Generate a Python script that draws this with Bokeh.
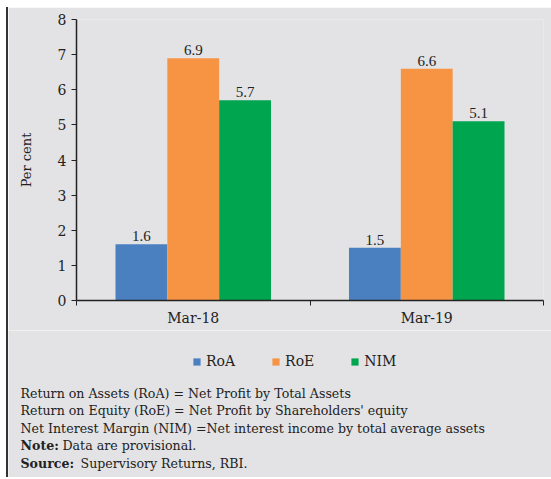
from bokeh.plotting import figure
from bokeh.layouts import column, row
from bokeh.models import (Range1d, FixedTicker, ColumnDataSource, LabelSet, Label,
                          Legend, LegendItem)
from bokeh.transform import dodge
from bokeh.embed import file_html
from bokeh.resources import INLINE

# ---- data ----
categories = ["Mar-18", "Mar-19"]
series_names = ["RoA", "RoE", "NIM"]
roa = [1.6, 1.5]
roe = [6.9, 6.6]
nim = [5.7, 5.1]
series_colors = ["#4a7fc0", "#f79443", "#00a550"]
y_ticks = [0, 1, 2, 3, 4, 5, 6, 7, 8]
footnotes = [
    "Return on Assets (RoA) = Net Profit by Total Assets",
    "Return on Equity (RoE) = Net Profit by Shareholders' equity",
    "Net Interest Margin (NIM) =Net interest income by total average assets",
]
note_head, note_body = "Note:", "Data are provisional."
source_head, source_body = "Source:", "Supervisory Returns, RBI."

FONT = "DejaVu Serif"
BG = "#e3e3e5"
TXT = "#222222"
W = 543

centers = [i + 0.5 for i in range(len(categories))]
data = dict(x=centers, cat=categories, RoA=roa, RoE=roe, NIM=nim,
            RoA_t=[f"{v:.1f}" for v in roa],
            RoE_t=[f"{v:.1f}" for v in roe],
            NIM_t=[f"{v:.1f}" for v in nim])
src = ColumnDataSource(data)

p = figure(width=W, height=323, output_backend="svg", toolbar_location=None,
           x_range=Range1d(0, len(categories)), y_range=Range1d(0, 8),
           min_border_left=68, min_border_right=8, min_border_top=12,
           min_border_bottom=30)
p.background_fill_color = BG
p.border_fill_color = BG
p.outline_line_color = None
p.grid.grid_line_color = None

bw = 0.222
offsets = [-bw, 0.0, bw]
for name, col, off in zip(series_names, series_colors, offsets):
    p.vbar(x=dodge("x", off, range=p.x_range), top=name, width=bw, bottom=0,
           source=src, fill_color=col, line_color=None)
    p.add_layout(LabelSet(x=dodge("x", off, range=p.x_range), y=name, text=name + "_t",
                          source=src, y_offset=3, text_align="center",
                          text_baseline="bottom", text_font=FONT,
                          text_font_size="15px", text_color=TXT))

# x axis: labels at centres, ticks at category boundaries
xa = p.xaxis[0]
xa.ticker = FixedTicker(ticks=centers,
                        minor_ticks=list(range(len(categories) + 1)))
xa.major_label_overrides = {c: t for c, t in zip(centers, categories)}
xa.major_tick_line_color = None
xa.minor_tick_out = 5
xa.minor_tick_in = 0
xa.minor_tick_line_color = "#222222"
xa.axis_line_color = "#222222"
xa.axis_line_width = 1.5
xa.major_label_text_font = FONT
xa.major_label_text_font_size = "14px"
xa.major_label_text_color = TXT
xa.major_label_standoff = 3

ya = p.yaxis[0]
ya.ticker = FixedTicker(ticks=y_ticks)
ya.minor_tick_line_color = None
ya.major_tick_out = 5
ya.major_tick_in = 0
ya.major_tick_line_color = "#222222"
ya.axis_line_color = "#222222"
ya.axis_line_width = 1.5
ya.major_label_text_font = FONT
ya.major_label_text_font_size = "14px"
ya.major_label_text_color = TXT
ya.major_label_standoff = 5
ya.axis_label = "Per cent"
ya.axis_label_text_font = FONT
ya.axis_label_text_font_style = "normal"
ya.axis_label_text_font_size = "13px"
ya.axis_label_text_color = TXT
ya.axis_label_standoff = 21

# ---- lower panel: legend and notes ----
H2 = 147
q = figure(width=W, height=H2, output_backend="svg", toolbar_location=None,
           x_range=Range1d(0, W), y_range=Range1d(0, H2),
           min_border=0, min_border_left=0, min_border_right=0,
           min_border_top=0, min_border_bottom=0,
           x_axis_type=None, y_axis_type=None)
q.background_fill_color = BG
q.border_fill_color = BG
q.outline_line_color = None
q.grid.grid_line_color = None

qsrc = ColumnDataSource(data)
items = []
for name, col in zip(series_names, series_colors):
    r = q.vbar(x="x", top=name, width=0.2, source=qsrc, fill_color=col,
               line_color=None, visible=False)
    items.append(LegendItem(label=name, renderers=[r]))
legend = Legend(items=items, orientation="horizontal", location=(184, 108),
                glyph_width=9, glyph_height=9, label_standoff=5, spacing=36,
                padding=0, margin=0, border_line_color=None,
                background_fill_alpha=0, label_text_font=FONT,
                label_text_font_size="14px", label_text_color=TXT,
                label_height=14)
q.add_layout(legend, "center")

for t, y in zip(footnotes, [84, 67, 49]):
    q.add_layout(Label(x=12, y=y, text=t, text_font=FONT, text_font_size="12.6px",
                       text_color=TXT, text_baseline="middle"))

for head, body, y, bx in [(note_head, note_body, 32, 54),
                          (source_head, source_body, 14, 72)]:
    q.add_layout(Label(x=12, y=y, text=head, text_font=FONT, text_font_size="12.6px",
                       text_color=TXT, text_font_style="bold", text_baseline="middle"))
    q.add_layout(Label(x=bx, y=y, text=body, text_font=FONT, text_font_size="12.6px",
                       text_color=TXT, text_baseline="middle"))

layout = column(p, row(q), spacing=0)
layout.margin = (7, 0, 0, 6)
layout.styles = {"border-left": "2px solid #333333"}

open("out.html", "w").write(file_html(layout, INLINE))
